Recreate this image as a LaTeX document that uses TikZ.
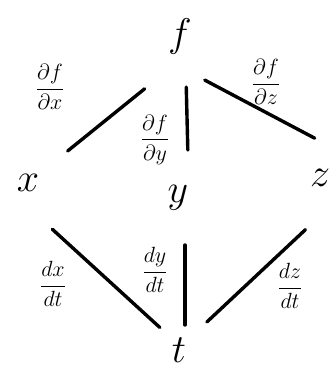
\RequirePackage{fix-cm}
\documentclass[tikz,border=0pt]{standalone}
\usepackage{amsmath,amssymb}
\usetikzlibrary{positioning}
\begin{document}
\begin{tikzpicture}[x=1pt,y=-1pt,
    var/.style={font=\fontsize{40}{44}\selectfont,inner sep=0pt},
    deriv/.style={font=\fontsize{22}{26}\selectfont,inner sep=0pt},
    branch/.style={line width=3.4pt,line cap=round}]
  \useasboundingbox (0,0) rectangle (332,373);
  % variables
  \foreach \n/\px/\py in {f/180/36, x/28/183, y/178/198, z/320/178, t/179/350}
    \node[var] (\n) at (\px,\py) {$\n$};
  % branches (end shifts are in picture units)
  \foreach \a/\b/\s/\e/\ax/\ay/\bx/\by in {f/x/84/51/30/0/0/0, f/y/51/48/5/0/11/0,
      f/z/28/6/0/31/0/-37, x/t/33/26/0/24/0/-5, y/t/47/25/7/0/6/0, z/t/20/41/0/38/-2/0}
    \draw[branch,shorten <=\s pt,shorten >=\e pt]
      ([shift={(\ax,\ay)}]\a.center) -- ([shift={(\bx,\by)}]\b.center);
  % derivatives
  \node[deriv] (dfdx) at (50,87) {$\dfrac{\partial f}{\partial x}$};
  \node[deriv] (dfdy) at (155,140) {$\dfrac{\partial f}{\partial y}$};
  \node[deriv] (dfdz) at (266,82) {$\dfrac{\partial f}{\partial z}$};
  \node[deriv] (dxdt) at (53,284) {$\dfrac{dx}{dt}$};
  \node[deriv] (dydt) at (155,270) {$\dfrac{dy}{dt}$};
  \node[deriv] (dzdt) at (290,286) {$\dfrac{dz}{dt}$};
\end{tikzpicture}
\end{document}
